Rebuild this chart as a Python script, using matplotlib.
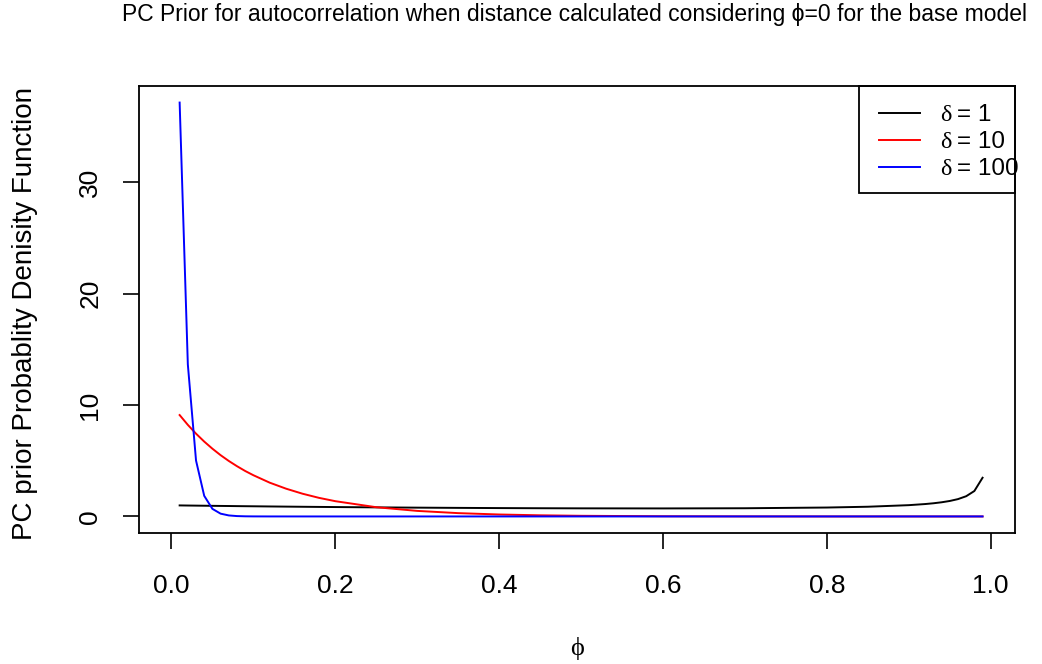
import matplotlib
matplotlib.use("Agg")
import matplotlib.pyplot as plt
from matplotlib.patches import Rectangle

# values (phi grid and the three density curves)
phi = [0.01, 0.02, 0.03, 0.04, 0.05, 0.06, 0.07, 0.08, 0.09, 0.10,
       0.12, 0.14, 0.16, 0.18, 0.20, 0.25, 0.30, 0.35, 0.40, 0.45,
       0.50, 0.60, 0.70, 0.80, 0.85, 0.90, 0.92, 0.93, 0.94, 0.95,
       0.96, 0.97, 0.98, 0.99]
dens_d1 = [0.990, 0.980, 0.971, 0.962, 0.953, 0.944, 0.936, 0.927, 0.919, 0.912,
           0.896, 0.882, 0.868, 0.855, 0.843, 0.814, 0.790, 0.769, 0.751, 0.737,
           0.727, 0.720, 0.736, 0.800, 0.872, 1.013, 1.113, 1.182, 1.271, 1.389,
           1.556, 1.815, 2.283, 3.474]
dens_d10 = [9.10, 8.22, 7.43, 6.72, 6.08, 5.50, 4.98, 4.51, 4.08, 3.70,
            3.03, 2.49, 2.04, 1.67, 1.37, 0.828, 0.498, 0.297, 0.175, 0.102,
            0.058, 0.018, 0.005, 0.001, 0.0003, 0.0001, 0, 0, 0, 0,
            0, 0, 0, 0]
dens_d100 = [37.15, 13.65, 5.02, 1.85, 0.68, 0.25, 0.091, 0.033, 0.012, 0.0045,
             0.0006, 0.0001, 0, 0, 0, 0, 0, 0, 0, 0,
             0, 0, 0, 0, 0, 0, 0, 0, 0, 0,
             0, 0, 0, 0]

labels = ["1", "10", "100"]
colors = ["black", "red", "blue"]
xticks = [0.0, 0.2, 0.4, 0.6, 0.8, 1.0]
yticks = [0, 10, 20, 30]

plt.rcParams['font.family'] = ['Liberation Sans', 'DejaVu Sans']

W, H = 1042, 664
fig = plt.figure(figsize=(W / 100, H / 100), dpi=100)
# plot region in pixels: x 139..1015, y 86..533
ax = fig.add_axes([139 / W, 1 - 533 / H, 876 / W, 447 / H])

series = [dens_d1, dens_d10, dens_d100]
for ys, c in zip(series, colors):
    ax.plot(phi, ys, color=c, lw=1.4)

# R style 4% axis extension (x range was 0..0.99)
ymax = max(max(s) for s in series)
ax.set_xlim(-0.04 * 0.99, 0.99 * 1.04)
ax.set_ylim(-0.04 * ymax, ymax * 1.04)

ax.set_xticks(xticks)
ax.set_xticklabels(["%.1f" % v for v in xticks])
ax.set_yticks(yticks)
ax.set_yticklabels([str(v) for v in yticks])
ax.tick_params(direction='out', length=11.5, width=1.2, labelsize=19, color='black')
ax.tick_params(axis='x', pad=18)
ax.tick_params(axis='y', pad=15, labelrotation=90)
for lab in ax.get_yticklabels():
    lab.set_verticalalignment('center')
for sp in ax.spines.values():
    sp.set_linewidth(1.3)
    sp.set_color('black')

# legend drawn by hand, like R's legend() at topright
ax.add_patch(Rectangle((0.8219, 0.7606), 0.1781, 0.2394, transform=ax.transAxes,
                       fill=False, edgecolor='black', lw=1.3, clip_on=False, zorder=5))
rows = [0.9403, 0.8799, 0.8195]
for yy, lab, c in zip(rows, labels, colors):
    ax.plot([0.8447, 0.8916], [yy, yy], color=c, lw=1.4, transform=ax.transAxes,
            clip_on=False, zorder=6)
    ax.text(0.9144, yy - 0.0187, "δ", transform=ax.transAxes, fontsize=17.5,
            family=['Liberation Serif', 'DejaVu Serif'], ha='left', va='baseline',
            clip_on=False, zorder=6)
    ax.text(0.9335, yy - 0.0187, "= " + lab, transform=ax.transAxes, fontsize=17.5,
            ha='left', va='baseline', clip_on=False, zorder=6)

fig.text(574 / W, 1 - 21 / H,
         "PC Prior for autocorrelation when distance calculated considering ϕ=0 for the base model",
         ha='center', va='baseline', fontsize=16.5)
fig.text(25 / W, 1 - 313 / H, "PC prior Probablity Denisity Function",
         rotation=90, ha='center', va='center', fontsize=20)
fig.text(577 / W, 1 - 649 / H, "ϕ", family=['Liberation Serif', 'DejaVu Serif'],
         ha='center', va='center', fontsize=19)

fig.savefig("out.png", dpi=100)
